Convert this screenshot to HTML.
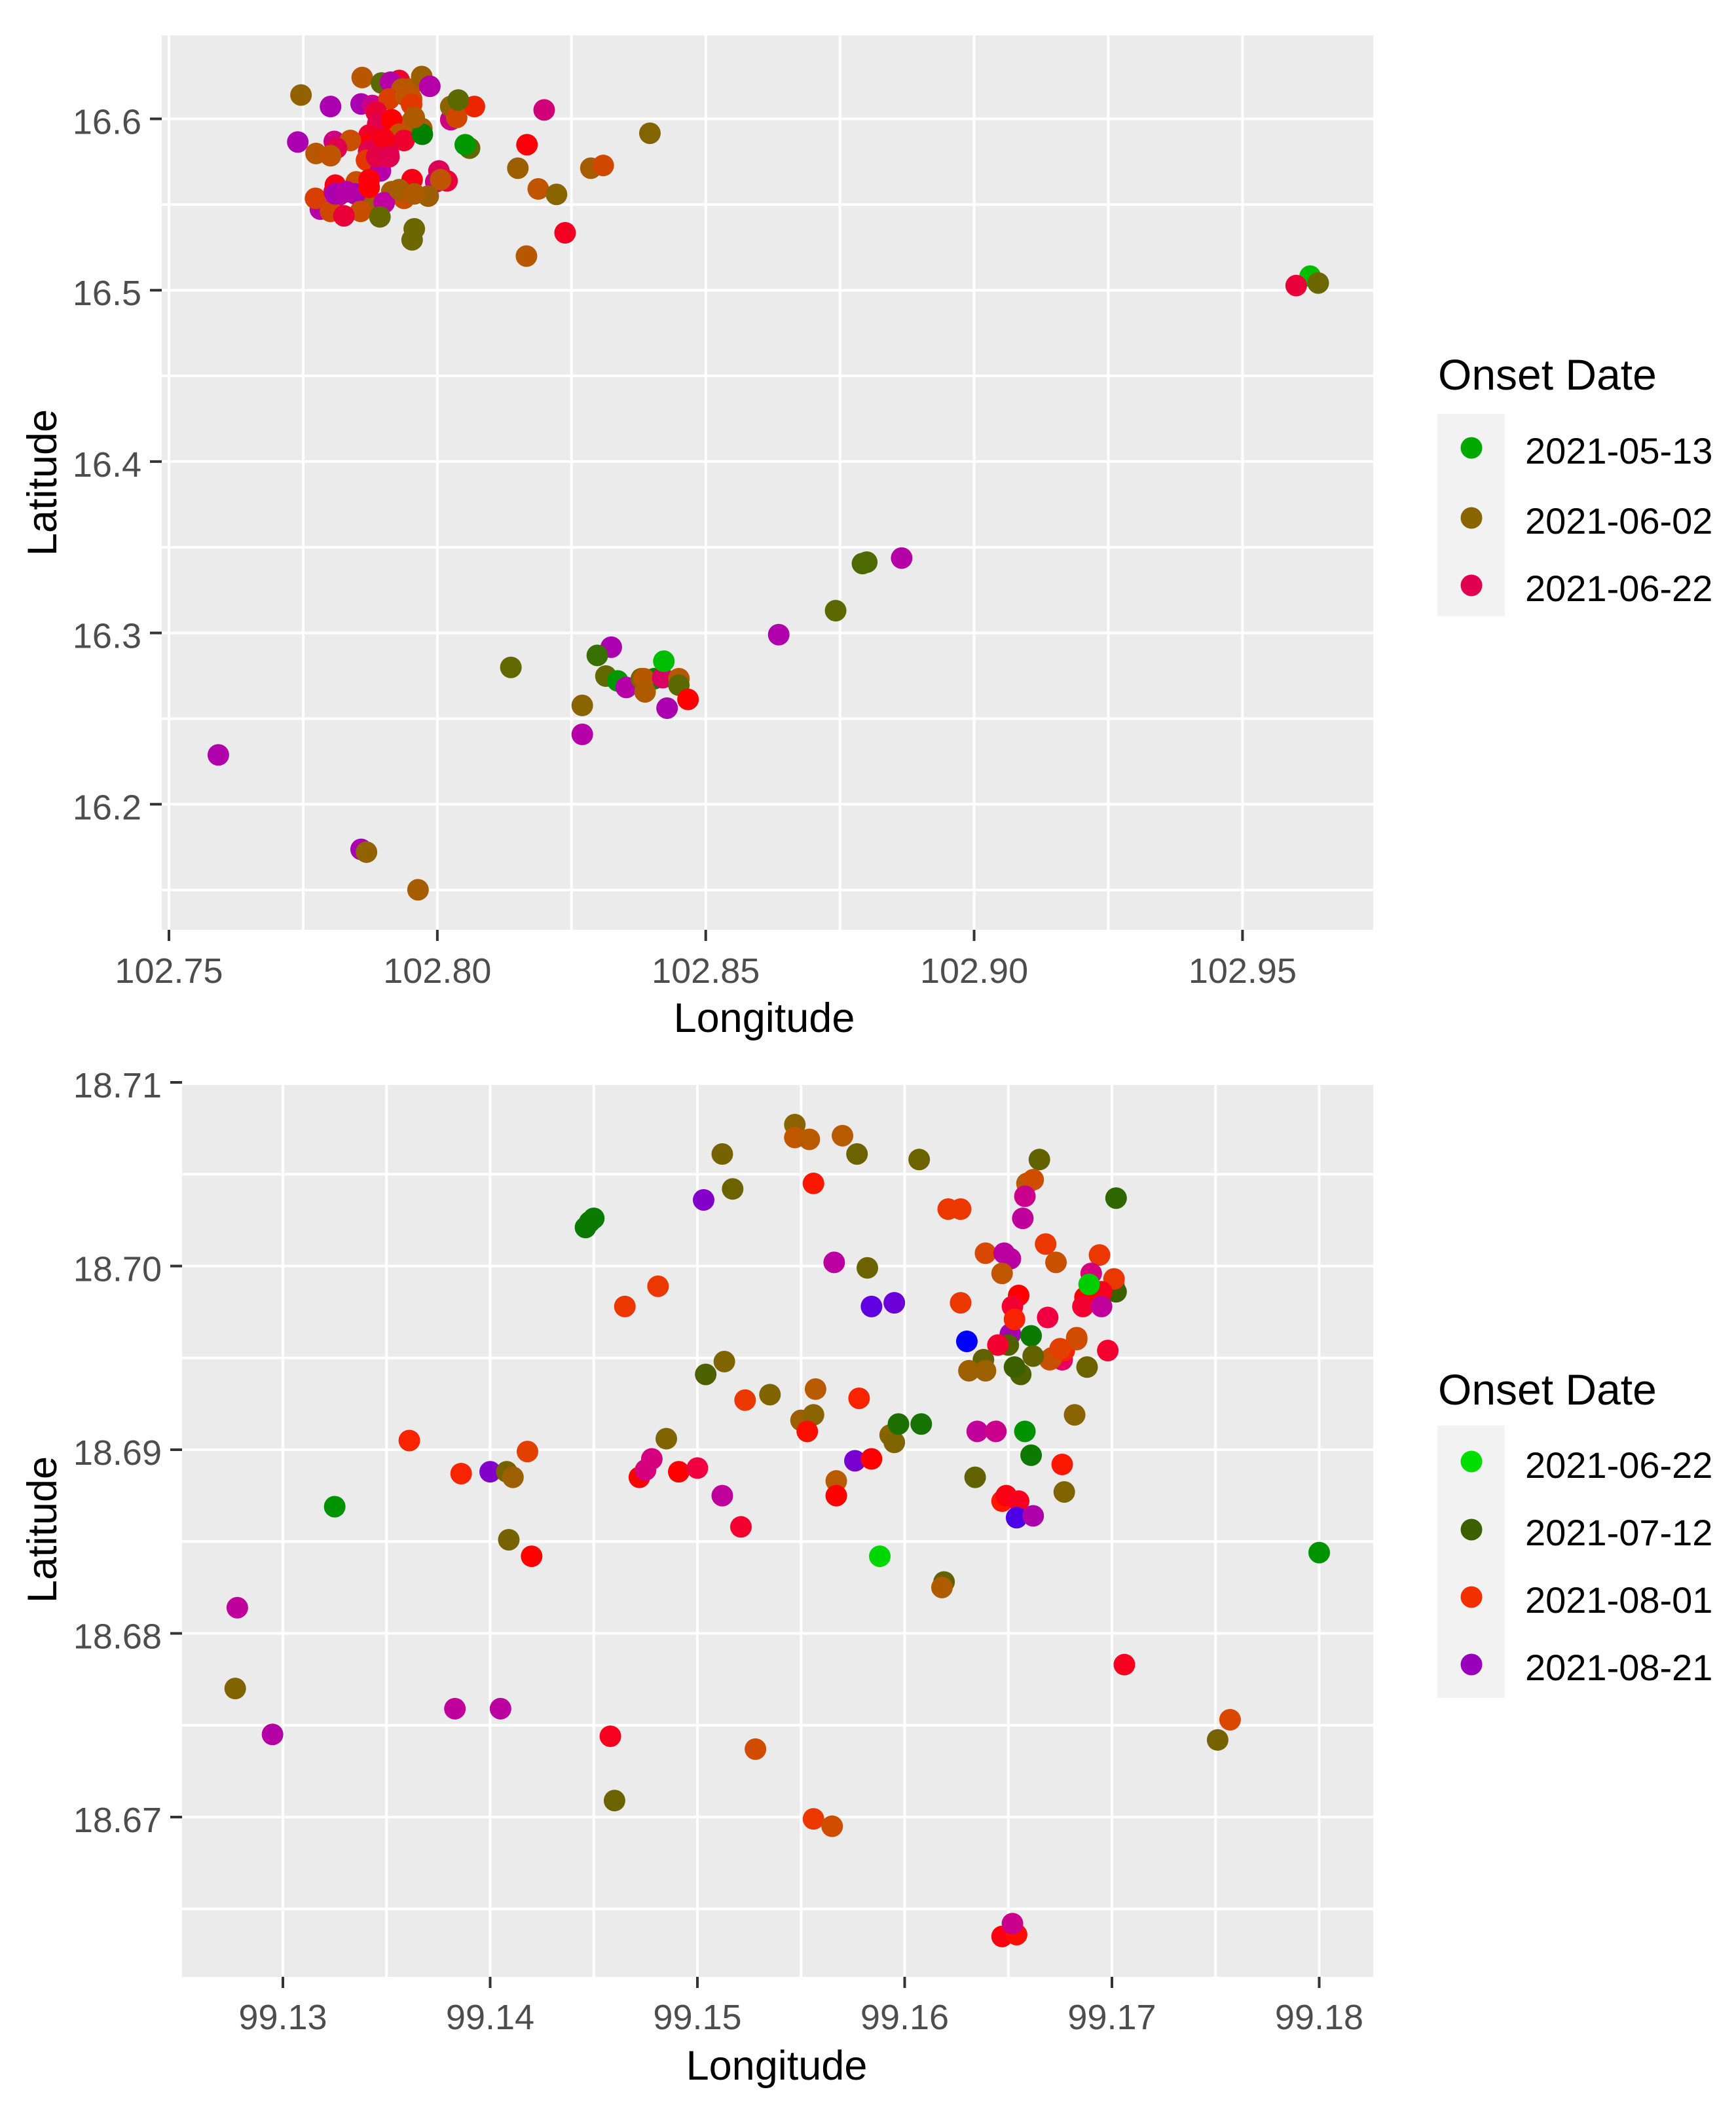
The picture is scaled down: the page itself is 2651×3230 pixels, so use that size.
<!DOCTYPE html>
<html lang="en">
<head>
<meta charset="utf-8">
<title>Onset date maps</title>
<style>
html,body{margin:0;padding:0;background:#fff}
svg{display:block;font-family:"Liberation Sans",Arial,sans-serif}
</style>
</head>
<body>
<svg id="figure" xmlns="http://www.w3.org/2000/svg" width="2651" height="3230" viewBox="0 0 2651 3230">
  <rect x="0" y="0" width="2651" height="3230" fill="#ffffff"/>
  <g id="chart1"></g>
  <g id="chart2"></g>

  <g>
    <text x="2196" y="595" font-size="66" fill="#000">Onset Date</text>
    <rect x="2195" y="632" width="103" height="309" fill="#f2f2f2"/>
    <circle cx="2247" cy="684" r="16.5" fill="#00a800"/>
    <circle cx="2247" cy="791" r="16.5" fill="#8a6400"/>
    <circle cx="2247" cy="894" r="16.5" fill="#e0004f"/>
    <text x="2329" y="708" font-size="56" fill="#000">2021-05-13</text>
    <text x="2329" y="815" font-size="56" fill="#000">2021-06-02</text>
    <text x="2329" y="918" font-size="56" fill="#000">2021-06-22</text>
  </g>

  <g>
    <text x="2196" y="2145" font-size="66" fill="#000">Onset Date</text>
    <rect x="2195" y="2177" width="103" height="416" fill="#f2f2f2"/>
    <circle cx="2247" cy="2232" r="16.5" fill="#00dd00"/>
    <circle cx="2247" cy="2336" r="16.5" fill="#3a6000"/>
    <circle cx="2247" cy="2439" r="16.5" fill="#f53000"/>
    <circle cx="2247" cy="2542" r="16.5" fill="#9900bb"/>
    <text x="2329" y="2257" font-size="56" fill="#000">2021-06-22</text>
    <text x="2329" y="2360" font-size="56" fill="#000">2021-07-12</text>
    <text x="2329" y="2463" font-size="56" fill="#000">2021-08-01</text>
    <text x="2329" y="2566" font-size="56" fill="#000">2021-08-21</text>
  </g>
</svg>

<script>
// ---- Top chart data (onset = days after 2021-05-13) ----
const chart1Lon = [
102.7746,102.7860,102.7801,102.7858,102.7879,102.7896,102.7929,102.7913,102.7948,102.7934,
102.7910,102.7952,102.7971,102.7986,102.7952,102.7971,102.7886,102.7889,102.7915,102.7929,
102.7873,102.7873,102.7892,102.7938,102.7740,102.7808,102.7838,102.7812,102.7774,102.7801,
102.7872,102.7909,102.7868,102.7894,102.7972,102.8025,102.8025,102.8069,102.8036,102.8039,
102.8060,102.8052,102.8167,102.8199,102.8150,102.8286,102.8309,102.8188,102.8222,102.8238,
102.8166,102.7997,102.8003,102.8018,102.8006,102.7953,102.7782,102.7773,102.7817,102.7808,
102.7810,102.7849,102.7871,102.7915,102.7938,102.7983,102.7901,102.7847,102.7873,102.7801,
102.7857,102.7826,102.7893,102.7957,102.7953,
102.8396,102.9626,102.9641,102.9600,
102.8324,102.8298,102.8314,102.8270,102.8270,102.8336,102.8352,102.8404,102.8380,102.8385,
102.8387,102.8420,102.8422,102.8450,102.8450,102.8467,102.8428,102.8636,
102.8742,102.8792,102.8800,102.8865,102.8137,102.7592,102.7858,102.7868,102.7964,
102.7941,102.7952,102.7957,102.7901,102.7901,102.7887,102.7910,102.7929,102.7957,102.7873,102.7810,102.7831
];
const chart1Lat = [
16.6139,16.6241,16.6072,16.6087,16.6078,16.6209,16.6224,16.6214,16.6174,16.6174,
16.6116,16.6116,16.6247,16.6190,16.5982,16.5944,16.6040,16.5970,16.5995,16.5910,
16.5906,16.5855,16.5880,16.5874,16.5865,16.5868,16.5874,16.5829,16.5798,16.5785,
16.5810,16.5798,16.5759,16.5696,16.5910,16.5995,16.6072,16.6072,16.6008,16.6110,
16.5829,16.5849,16.5849,16.6052,16.5712,16.5712,16.5728,16.5591,16.5559,16.5335,
16.5199,16.5632,16.5696,16.5638,16.5645,16.5645,16.5473,16.5536,16.5556,16.5575,
16.5613,16.5632,16.5511,16.5575,16.5536,16.5549,16.5511,16.5562,16.5600,16.5460,
16.5460,16.5434,16.5428,16.5358,16.5294,
16.5916,16.5082,16.5042,16.5027,
16.2917,16.2869,16.2748,16.2577,16.2408,16.2720,16.2682,16.2733,16.2733,16.2733,
16.2656,16.2739,16.2835,16.2733,16.2695,16.2612,16.2561,16.2990,
16.3130,16.3405,16.3413,16.3437,16.2799,16.2288,16.1737,16.1721,16.1501,
16.6135,16.6084,16.6008,16.5829,16.5880,16.5779,16.5779,16.5587,16.5562,16.5645,16.5562,16.5575
];
const chart1Onset = [
21,25,52,52,46,14,37,50,25,25,
29,27,22,50,25,23,38,40,33,26,
37,34,36,37,52,45,27,40,25,26,
40,39,30,50,5,45,20,31,28,14,
15,2,34,44,22,23,28,26,20,36,
25,46,41,38,26,35,50,29,47,40,
35,27,22,23,27,22,48,52,33,28,
27,38,15,16,16,
19,-3,16,38,
52,10,15,20,50,2,50,5,17,25,
24,42,-3,25,14,33,52,51,
14,12,12,50,15,51,52,21,23,
26,30,24,40,35,39,40,23,24,34,52,50
];
const chart1ColorDays = [-8,0,5,12,20,26,30,33,40,48,54];
const chart1Colors = ['#00e000','#00a800','#008000','#4d6a00','#8a6400','#c05500','#e03800','#ff0000','#e0004f','#c000a0','#a000b8'];
const chart1XTicks = [102.75,102.80,102.85,102.90,102.95];
const chart1XTickLabels = ['102.75','102.80','102.85','102.90','102.95'];
const chart1XMinor = [102.775,102.825,102.875,102.925];
const chart1YTicks = [16.6,16.5,16.4,16.3,16.2];
const chart1YTickLabels = ['16.6','16.5','16.4','16.3','16.2'];
const chart1YMinor = [16.55,16.45,16.35,16.25,16.15];

// ---- Bottom chart data (onset = days after 2021-06-22) ----
const chart2Lon = [
99.1325,99.1361,99.1386,99.1400,99.1408,99.1411,99.1418,99.1420,99.1409,99.1278,
99.1277,99.1295,99.1383,99.1405,99.1458,99.1460,99.1528,99.1556,99.1565,99.1647,
99.1654,99.1652,99.1706,99.1751,99.1757,99.1800,99.1588,99.1619,99.1618,99.1485,
99.1472,99.1475,99.1478,99.1491,99.1500,99.1512,99.1521,99.1504,99.1513,99.1523,
99.1535,99.1550,99.1556,99.1553,99.1557,99.1578,99.1567,99.1567,99.1576,99.1584,
99.1593,99.1595,99.1597,99.1608,99.1465,99.1481,99.1446,99.1448,99.1450,99.1512,
99.1517,99.1503,99.1547,99.1547,99.1554,99.1570,99.1577,99.1556,99.1566,
99.1607,99.1665,99.1659,99.1662,99.1658,99.1702,99.1621,99.1627,99.1657,99.1668,
99.1673,99.1694,99.1639,99.1648,99.1651,99.1647,99.1582,99.1690,99.1701,99.1702,
99.1701,99.1695,99.1687,99.1689,99.1686,99.1695,99.1655,99.1584,99.1595,99.1627,
99.1652,99.1669,99.1651,99.1653,99.1661,99.1630,99.1650,99.1645,99.1683,99.1698,
99.1676,99.1677,99.1671,99.1670,99.1662,99.1638,99.1656,99.1653,99.1688,99.1631,99.1639,
99.1658,99.1661,99.1635,99.1644,99.1634,99.1682,99.1676,99.1677,99.1647,99.1649,
99.1655,99.1654,99.1662,99.1683,99.1675
];
const chart2Lat = [
18.6869,18.6905,18.6887,18.6888,18.6888,18.6885,18.6899,18.6842,18.6851,18.6814,
18.6770,18.6745,18.6759,18.6759,18.6744,18.6709,18.6737,18.6699,18.6695,18.6635,
18.6636,18.6642,18.6783,18.6742,18.6753,18.6844,18.6842,18.6828,18.6825,18.6906,
18.6885,18.6889,18.6895,18.6888,18.6890,18.6875,18.6858,18.6941,18.6948,18.6927,
18.6930,18.6916,18.6919,18.6910,18.6933,18.6928,18.6883,18.6875,18.6894,18.6895,
18.6908,18.6904,18.6914,18.6914,18.6978,18.6989,18.7021,18.7024,18.7026,18.7061,
18.7042,18.7036,18.7077,18.7070,18.7069,18.7071,18.7061,18.7045,18.7002,
18.7058,18.7058,18.7045,18.7047,18.7038,18.7037,18.7031,18.7031,18.7026,18.7012,
18.7002,18.7006,18.7007,18.7007,18.7004,18.6996,18.6999,18.6996,18.6989,18.6986,
18.6993,18.6986,18.6983,18.6990,18.6978,18.6978,18.6984,18.6978,18.6980,18.6980,
18.6978,18.6972,18.6963,18.6971,18.6962,18.6959,18.6957,18.6957,18.6961,18.6954,
18.6949,18.6954,18.6950,18.6949,18.6951,18.6949,18.6941,18.6945,18.6945,18.6943,18.6943,
18.6910,18.6897,18.6910,18.6910,18.6885,18.6919,18.6892,18.6877,18.6872,18.6875,
18.6872,18.6863,18.6864,18.6960,18.6955
];
const chart2Onset = [
8,41,41,62,26,30,38,44,26,54,
27,56,54,55,46,25,36,39,36,45,
43,53,46,26,37,8,1,24,32,27,
44,52,52,44,48,54,47,22,27,39,
27,30,28,43,33,41,33,44,63,44,
28,27,15,14,39,39,12,12,12,26,
25,62,28,34,33,33,25,42,55,
25,24,33,36,53,18,39,39,54,39,
35,39,37,55,55,34,25,52,38,20,
39,46,44,2,47,54,44,65,64,39,
47,48,58,41,12,70,22,47,38,47,
50,41,38,35,24,24,22,20,25,30,30,
8,12,54,53,24,28,42,27,42,45,
46,66,57,36,38
];
const chart2ColorDays = [0,10,20,28,33,37,40,44,50,54,60,65,70];
const chart2Colors = ['#00e000','#008000','#3a6000','#8a6400','#b85a00','#d84800','#f53000','#ff0000','#e80060','#c0009a','#9900bb','#6000e0','#0000ff'];
const chart2XTicks = [99.13,99.14,99.15,99.16,99.17,99.18];
const chart2XTickLabels = ['99.13','99.14','99.15','99.16','99.17','99.18'];
const chart2XMinor = [99.135,99.145,99.155,99.165,99.175];
const chart2YTicks = [18.71,18.70,18.69,18.68,18.67];
const chart2YTickLabels = ['18.71','18.70','18.69','18.68','18.67'];
const chart2YMinor = [18.705,18.695,18.685,18.675,18.665];

const SVGNS = 'http://www.w3.org/2000/svg';

function hexToRgb(h) {
  return [parseInt(h.slice(1,3),16), parseInt(h.slice(3,5),16), parseInt(h.slice(5,7),16)];
}
function onsetColor(day, days, colors) {
  if (day <= days[0]) return colors[0];
  for (let i = 1; i < days.length; i++) {
    if (day <= days[i]) {
      const t = (day - days[i-1]) / (days[i] - days[i-1]);
      const a = hexToRgb(colors[i-1]);
      const b = hexToRgb(colors[i]);
      return 'rgb(' + a.map((c, k) => Math.round(c + (b[k] - c) * t)).join(',') + ')';
    }
  }
  return colors[colors.length - 1];
}
function make(parent, tag, attrs, text) {
  const el = document.createElementNS(SVGNS, tag);
  for (const k in attrs) el.setAttribute(k, attrs[k]);
  if (text !== undefined) el.textContent = text;
  parent.appendChild(el);
  return el;
}

function drawChart(root, c) {
  const bg = make(root, 'rect', {x: c.left, y: c.top, width: c.right - c.left, height: c.bottom - c.top, fill: '#ebebeb'});
  
  

  c.yMinor.concat(c.yTicks).forEach(v => {
    const py = c.y(v);
    if (py < c.top || py > c.bottom) return;
    const l = make(root, 'line', {x1: c.left, x2: c.right, y1: py, y2: py, stroke: '#ffffff', 'stroke-width': 4});
    
    
  });
  c.xMinor.concat(c.xTicks).forEach(v => {
    const px = c.x(v);
    const l = make(root, 'line', {x1: px, x2: px, y1: c.top, y2: c.bottom, stroke: '#ffffff', 'stroke-width': 4});
    
    
  });

  c.xTicks.forEach((v, i) => {
    const px = c.x(v);
    const t = make(root, 'line', {x1: px, x2: px, y1: c.bottom, y2: c.bottom + 17, stroke: '#333333', 'stroke-width': 4});
    
    
    const lab = make(root, 'text', {x: px, y: c.xLabelY, 'text-anchor': 'middle', 'font-size': 54, fill: '#4d4d4d'}, c.xLabels[i]);
    
    
  });
  c.yTicks.forEach((v, i) => {
    const py = c.y(v);
    const t = make(root, 'line', {x1: c.left - 18, x2: c.left, y1: py, y2: py, stroke: '#333333', 'stroke-width': 4});
    
    
    const lab = make(root, 'text', {x: c.left - 31, y: py + 23, 'text-anchor': 'end', 'font-size': 54, fill: '#4d4d4d'}, c.yLabels[i]);
    
    
  });

  c.lon.forEach((v, i) => {
    const p = make(root, 'circle', {cx: c.x(v), cy: c.y(c.lat[i]), r: 16.5, fill: onsetColor(c.onset[i], c.colorDays, c.colors)});
    
    
  });

  const xt = make(root, 'text', {x: c.xTitleX, y: c.xTitleY, 'text-anchor': 'middle', 'font-size': 63, fill: '#000'}, 'Longitude');
  
  
  const yt = make(root, 'text', {x: 0, y: 0, 'text-anchor': 'middle', 'font-size': 63, fill: '#000', transform: 'translate(86,' + c.yTitleY + ') rotate(-90)'}, 'Latitude');
  
  
}

drawChart(document.getElementById('chart1'), {
  left: 247, right: 2097, top: 54, bottom: 1420,
  x: v => 258 + (v - 102.75) * 8197,
  y: v => 181.5 + (16.6 - v) * 2617,
  lon: chart1Lon, lat: chart1Lat, onset: chart1Onset,
  colorDays: chart1ColorDays, colors: chart1Colors,
  xTicks: chart1XTicks, xLabels: chart1XTickLabels, xMinor: chart1XMinor,
  yTicks: chart1YTicks, yLabels: chart1YTickLabels, yMinor: chart1YMinor,
  xLabelY: 1501, xTitleX: 1167, xTitleY: 1576, yTitleY: 737
});
drawChart(document.getElementById('chart2'), {
  left: 278, right: 2097, top: 1657, bottom: 3019,
  x: v => 432 + (v - 99.13) * 31650,
  y: v => 1653 + (18.71 - v) * 28050,
  lon: chart2Lon, lat: chart2Lat, onset: chart2Onset,
  colorDays: chart2ColorDays, colors: chart2Colors,
  xTicks: chart2XTicks, xLabels: chart2XTickLabels, xMinor: chart2XMinor,
  yTicks: chart2YTicks, yLabels: chart2YTickLabels, yMinor: chart2YMinor,
  xLabelY: 3099, xTitleX: 1186, xTitleY: 3176, yTitleY: 2336
});
</script>
</body>
</html>
